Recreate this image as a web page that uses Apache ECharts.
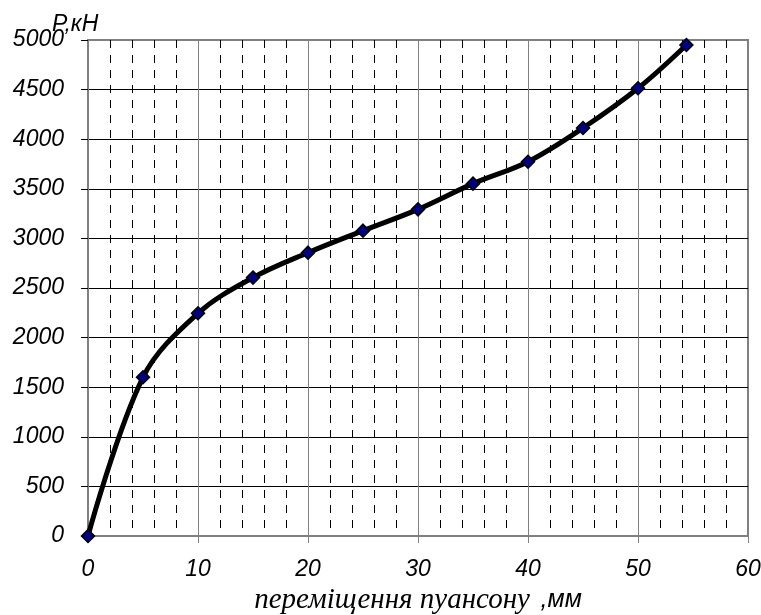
<!DOCTYPE html>
<html>
<head>
<meta charset="utf-8">
<script src="https://cdn.jsdelivr.net/npm/echarts@6/dist/echarts.min.js"></script>
<style>
html, body { margin: 0; padding: 0; background: #fff; }
#chart1 { width: 761px; height: 615px; }
</style>
</head>
<body>
<div id="chart1"></div>
<script>
// переміщення пуансону, мм
var xValues = [0, 5, 10, 15, 20, 25, 30, 35, 40, 45, 50, 54.4];
// зусилля P, кН
var pValues = [0, 1600, 2245, 2605, 2856, 3078, 3293, 3552, 3773, 4113, 4513, 4950];

var points = xValues.map(function (x, i) { return [x, pValues[i]]; });

var labelFont = {
    color: '#000',
    fontSize: 23,
    fontStyle: 'italic',
    fontWeight: 'normal',
    fontFamily: 'Liberation Sans, Arial, sans-serif'
};

var option = {
    backgroundColor: '#fff',
    animation: false,
    title: {
        text: 'P,кН',
        left: 52,
        top: 13,
        padding: 0,
        textStyle: labelFont
    },
    grid: {
        left: 88,
        right: 13,
        top: 40,
        bottom: 79,
        outerBoundsMode: 'none',
        containLabel: false,
        show: true,
        borderColor: '#808080',
        borderWidth: 2
    },
    xAxis: {
        type: 'value',
        min: 0,
        max: 60,
        interval: 10,
        axisLine: { show: true, lineStyle: { color: '#808080', width: 2 } },
        axisTick: { show: true, inside: false, length: 7, lineStyle: { color: '#808080', width: 1 } },
        axisLabel: Object.assign({ margin: 22, formatter: function (v) { return String(v); } }, labelFont),
        splitLine: { show: true, lineStyle: { color: '#808080', width: 1 } },
        minorTick: { show: false, splitNumber: 5 },
        minorSplitLine: { show: true, lineStyle: { color: '#000', width: 1, type: [8, 7] } },
        name: '{a|переміщення пуансону}  {b|,мм}',
        nameLocation: 'middle',
        nameGap: 49,
        nameTextStyle: {
            rich: {
                a: { fontSize: 29, fontStyle: 'italic', fontFamily: 'Liberation Serif, Times New Roman, serif', color: '#000' },
                b: { fontSize: 25, fontStyle: 'italic', fontFamily: 'Liberation Sans, Arial, sans-serif', color: '#000', padding: [0, 0, 0, 4] }
            }
        }
    },
    yAxis: {
        type: 'value',
        min: 0,
        max: 5000,
        interval: 500,
        axisLine: { show: true, lineStyle: { color: '#808080', width: 2 } },
        axisTick: { show: true, inside: false, length: 7, lineStyle: { color: '#000', width: 1 } },
        axisLabel: Object.assign({ margin: 24, formatter: function (v) { return String(v); } }, labelFont),
        splitLine: { show: true, showMaxLine: false, showMinLine: false, lineStyle: { color: '#000', width: 1 } }
    },
    series: [{
        type: 'line',
        data: points,
        smooth: 0.35,
        symbol: 'diamond',
        symbolSize: 13,
        lineStyle: { color: '#000', width: 5 },
        itemStyle: { color: '#000080', borderColor: '#000', borderWidth: 1.5 },
        z: 5
    }]
};

var myChart = echarts.init(document.getElementById('chart1'));
myChart.setOption(option);
</script>
</body>
</html>
